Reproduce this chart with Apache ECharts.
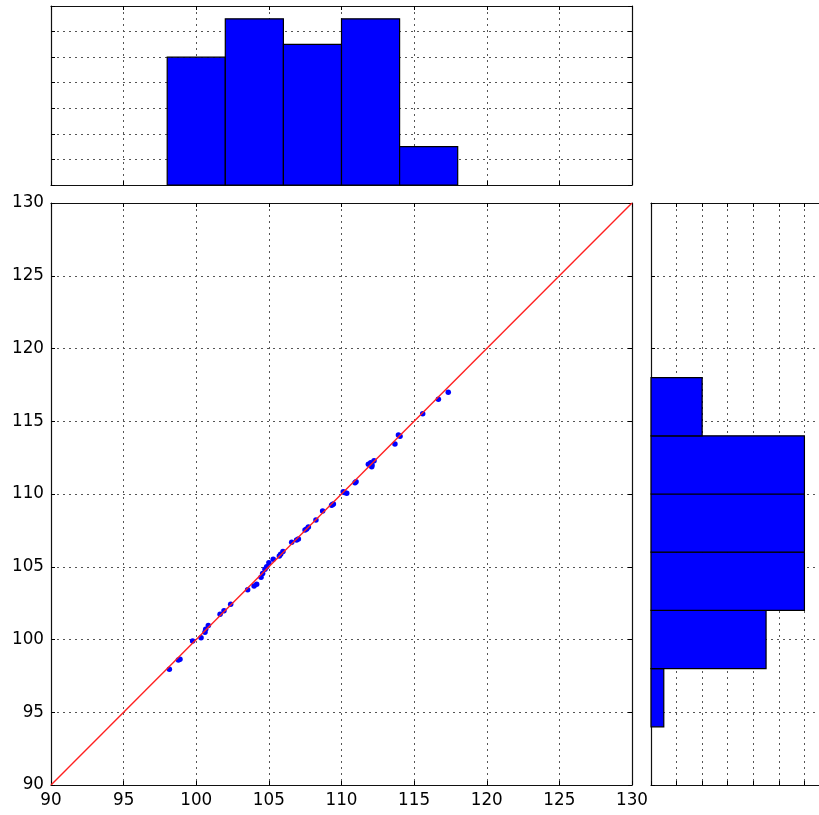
<!DOCTYPE html>
<html>
<head>
<meta charset="utf-8">
<script src="https://cdn.jsdelivr.net/npm/echarts@6/dist/echarts.min.js"></script>
<style>
html,body{margin:0;padding:0;background:#fff;}
#chart{width:819px;height:815px;}
</style>
</head>
<body>
<div id="chart"></div>
<script>
// ---- data ----
const xValues = [98.15, 98.77, 98.88, 99.75, 100.33, 100.6, 100.65, 100.83, 101.64, 101.91,
  102.37, 103.54, 103.98, 104.16, 104.46, 104.57, 104.73, 104.85, 105.0, 105.3,
  105.72, 105.81, 105.97, 106.57, 106.91, 107.03, 107.49, 107.6, 107.72, 108.24,
  108.7, 109.32, 109.38, 109.44, 110.12, 110.2, 110.36, 110.93, 111.0, 111.85,
  112.08, 112.01, 112.1, 112.24, 113.68, 113.92, 114.03, 115.59, 116.67, 117.35];
const yValues = [97.95, 98.59, 98.64, 99.9, 100.12, 100.49, 100.7, 100.97, 101.73, 101.98,
  102.42, 103.42, 103.68, 103.79, 104.27, 104.54, 104.82, 105.0, 105.28, 105.51,
  105.74, 105.86, 106.04, 106.68, 106.84, 106.91, 107.53, 107.6, 107.73, 108.21,
  108.83, 109.22, 109.27, 109.31, 110.16, 110.1, 110.05, 110.78, 110.85, 112.04,
  111.88, 112.15, 112.0, 112.29, 113.44, 114.05, 113.97, 115.52, 116.51, 116.99];
const binEdges = [98, 102, 106, 110, 114, 118];
const xCounts = [10, 13, 11, 13, 3];
const yBinEdges = [94, 98, 102, 106, 110, 114, 118];
const yCounts = [1, 9, 12, 12, 12, 4];
const diagonal = [90, 130];
const axisMin = 90, axisMax = 130, axisStep = 5;
const countMax = 14, countStep = 2;

// ---- build ----
const scatterData = xValues.map((x, i) => [x, yValues[i]]);
const topHist = xCounts.map((c, i) => [binEdges[i], binEdges[i + 1], c]);
const rightHist = yCounts.map((c, i) => [c, yBinEdges[i], yBinEdges[i + 1]]);

// right-hand histogram panel is 179px wide in the figure but cut by the canvas edge
const rightPanelFull = 179, rightPanelVisible = 168;
const rightCountMax = countMax * rightPanelVisible / rightPanelFull;

const FONT = 'DejaVu Sans';
const gridLine = {show: true, lineStyle: {color: '#555', width: 1, type: [2, 4]}};
function ax(gridIndex, position, min, max, interval, opts) {
  opts = opts || {};
  return Object.assign({
    type: 'value', gridIndex, position, min, max, interval,
    axisLine: {show: true, onZero: false, lineStyle: {color: '#111', width: 1.2}},
    axisTick: {show: true, inside: true, length: 4, lineStyle: {color: '#000', width: 1}},
    axisLabel: {show: false},
    splitLine: {show: false}
  }, opts);
}
const labelX = {show: true, color: '#000', fontFamily: FONT, fontSize: 16.8, margin: 7,
  showMinLabel: true, showMaxLabel: true};
const labelY = {show: true, color: '#000', fontFamily: FONT, fontSize: 16.8, margin: 7,
  showMinLabel: true, showMaxLabel: true};

const option = {
  animation: false,
  backgroundColor: '#fff',
  grid: [
    {left: 51, top: 203, width: 581, height: 582},
    {left: 51, top: 6, width: 581, height: 179},
    {left: 651, top: 203, width: rightPanelVisible, height: 582}
  ],
  xAxis: [
    ax(0, 'bottom', axisMin, axisMax, axisStep, {axisLabel: labelX, splitLine: gridLine}),
    ax(0, 'top', axisMin, axisMax, axisStep),
    ax(1, 'bottom', axisMin, axisMax, axisStep, {splitLine: gridLine}),
    ax(1, 'top', axisMin, axisMax, axisStep),
    ax(2, 'bottom', 0, rightCountMax, countStep, {splitLine: gridLine}),
    ax(2, 'top', 0, rightCountMax, countStep)
  ],
  yAxis: [
    ax(0, 'left', axisMin, axisMax, axisStep, {axisLabel: labelY, splitLine: gridLine}),
    ax(0, 'right', axisMin, axisMax, axisStep),
    ax(1, 'left', 0, countMax, countStep, {splitLine: gridLine}),
    ax(1, 'right', 0, countMax, countStep),
    ax(2, 'left', axisMin, axisMax, axisStep, {splitLine: gridLine}),
    ax(2, 'right', axisMin, axisMax, axisStep, {axisLine: {show: false}, axisTick: {show: false}})
  ],
  series: [
    {
      type: 'scatter', xAxisIndex: 0, yAxisIndex: 0, data: scatterData,
      symbol: 'circle', symbolSize: 5.5,
      itemStyle: {color: '#0000ff', opacity: 1}, z: 3
    },
    {
      type: 'line', xAxisIndex: 0, yAxisIndex: 0,
      data: [[diagonal[0], diagonal[0]], [diagonal[1], diagonal[1]]],
      symbol: 'none', lineStyle: {color: '#ff2020', width: 1.4}, z: 4, silent: true
    },
    {
      type: 'custom', xAxisIndex: 2, yAxisIndex: 2, data: topHist,
      encode: {x: [0, 1], y: 2},
      renderItem: function (params, api) {
        const p0 = api.coord([api.value(0), 0]);
        const p1 = api.coord([api.value(1), api.value(2)]);
        return {type: 'rect', shape: {x: p0[0], y: p1[1], width: p1[0] - p0[0], height: p0[1] - p1[1]},
          style: {fill: '#0000ff', stroke: '#000', lineWidth: 1.2}};
      }, z: 3
    },
    {
      type: 'custom', xAxisIndex: 4, yAxisIndex: 4, data: rightHist,
      encode: {x: 0, y: [1, 2]},
      renderItem: function (params, api) {
        const p0 = api.coord([0, api.value(1)]);
        const p1 = api.coord([api.value(0), api.value(2)]);
        return {type: 'rect', shape: {x: p0[0], y: p1[1], width: p1[0] - p0[0], height: p0[1] - p1[1]},
          style: {fill: '#0000ff', stroke: '#000', lineWidth: 1.2}};
      }, z: 3
    }
  ]
};
const chart = echarts.init(document.getElementById('chart'), null, {renderer: 'canvas'});
chart.setOption(option);
</script>
</body>
</html>
